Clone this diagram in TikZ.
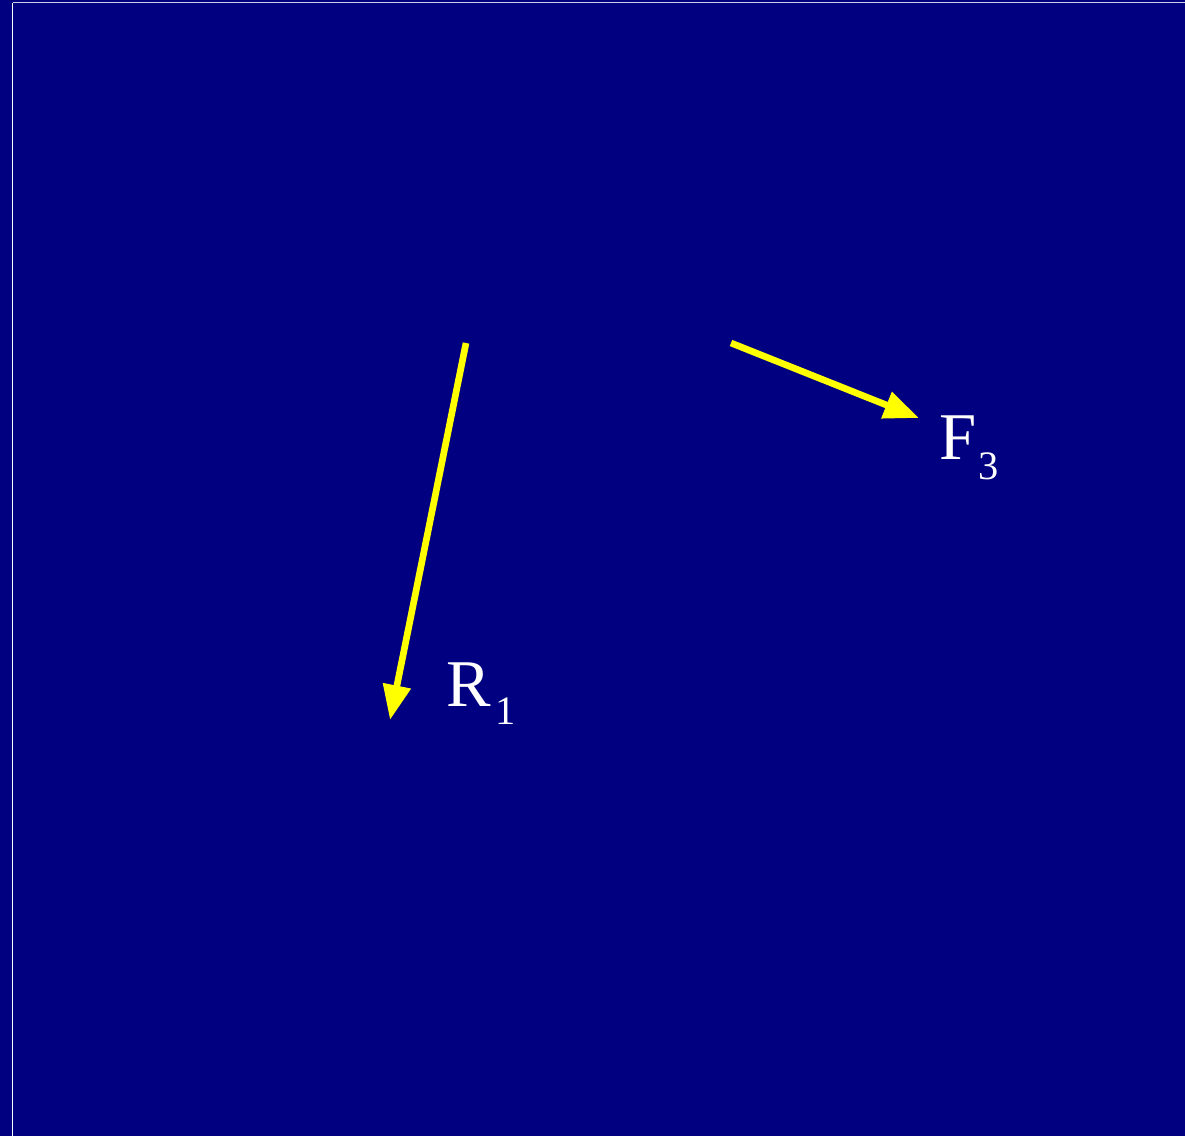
\documentclass[tikz,border=0pt]{standalone}
\usepackage{fontspec}
\setmainfont{Liberation Serif}
\usetikzlibrary{arrows.meta}

\begin{document}
\begin{tikzpicture}[x=0.02cm,y=-0.02cm,>={Triangle[length=0.7cm,width=0.54cm]},
  every node/.style={text=white,inner sep=0pt}]
  \definecolor{slideblue}{RGB}{0,0,128}
  \definecolor{forceyellow}{RGB}{255,255,0}
  \fill[slideblue] (0,0) rectangle (1185,1136);
  \useasboundingbox (0,0) rectangle (1185,1136);
  \draw[white!80!slideblue,line width=1.1pt] (12.5,2.5)--(1185,2.5);
  \draw[white,line width=1.1pt] (12.5,2.5)--(12.5,1136);
  \coordinate (rtail) at (466,343);
  \coordinate (rtip) at (390,720);
  \coordinate (ftail) at (731,343);
  \coordinate (ftip) at (919,418);
  \draw[forceyellow,line width=3.8pt,->] (rtail)--(rtip);
  \draw[forceyellow,line width=3.8pt,->] (ftail)--(ftip);
  \node[anchor=base west,font=\fontsize{38}{40}\selectfont] (rlabel) at (446,706) {R};
  \node[anchor=base west,font=\fontsize{23}{25}\selectfont] (rsub) at (495,724) {1};
  \node[anchor=base west,font=\fontsize{38}{40}\selectfont] (flabel) at (939,459) {F};
  \node[anchor=base west,font=\fontsize{23}{25}\selectfont] (fsub) at (978,479) {3};
\end{tikzpicture}
\end{document}
